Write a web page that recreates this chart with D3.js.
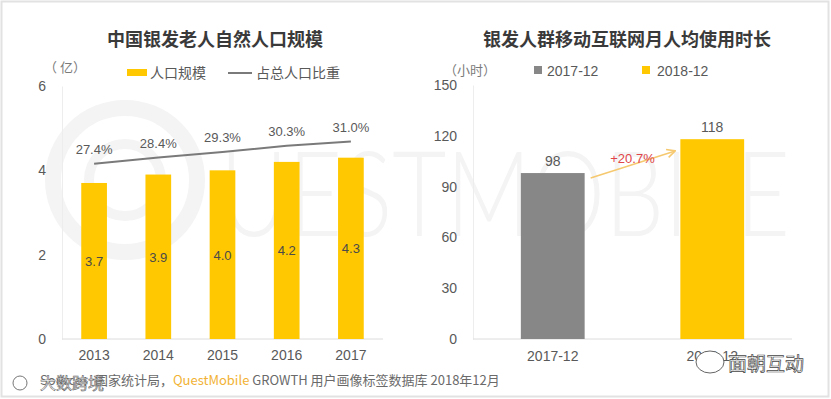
<!DOCTYPE html>
<html>
<head>
<meta charset="utf-8">
<script src="https://cdn.jsdelivr.net/npm/d3@7"></script>
<style>
  body { margin: 0; background: #fff; }
  svg { display: block; font-family: "Noto Sans CJK SC", "Noto Sans", sans-serif; }
  .num { font-family: "Liberation Sans", Arial, sans-serif; }
</style>
</head>
<body>
<svg id="chart" width="831" height="399"></svg>
<script>
// left chart data
const years = ['2013', '2014', '2015', '2016', '2017'];
const population = [3.7, 3.9, 4.0, 4.2, 4.3];      // 亿
const shareOfTotal = [27.4, 28.4, 29.3, 30.3, 31.0]; // %
const popTicks = [0, 2, 4, 6];

// right chart data
const months = ['2017-12', '2018-12'];
const hours = [98, 118];
const hourTicks = [0, 30, 60, 90, 120, 150];
const growthLabel = '+20.7%';

const YELLOW = '#ffc800';
const GREY = '#878787';
const TXT = '#595959';
const NUMFONT = '"Liberation Sans", Arial, sans-serif';

const svg = d3.select('#chart');

// page border
svg.append('rect')
  .attr('x', 1.5).attr('y', 1.5).attr('width', 827).attr('height', 395)
  .attr('fill', '#fff').attr('stroke', '#e2e2e2').attr('stroke-width', 2);

// faint QuestMobile watermark
const wm = svg.append('g').attr('fill', 'none').attr('stroke', '#f4f4f4');
wm.append('circle').attr('cx', 125).attr('cy', 180).attr('r', 72).attr('stroke-width', 16);
wm.append('circle').attr('cx', 125).attr('cy', 180).attr('r', 36).attr('stroke-width', 10);
svg.append('text')
  .attr('x', 220).attr('y', 236)
  .attr('textLength', 570).attr('lengthAdjust', 'spacingAndGlyphs')
  .style('font-family', 'Lato, sans-serif').style('font-weight', 300)
  .style('font-size', '118px').attr('fill', '#f4f4f4')
  .text('UESTMOBILE');

// ---------- left chart ----------
const left = svg.append('g');
const x1 = d3.scaleBand().domain(years).range([62, 383]).paddingInner(0.6).paddingOuter(0.3);
const y1 = d3.scaleLinear().domain([0, 6]).range([339, 86]);
const y1b = d3.scaleLinear().domain([-1, 40]).range([339, 86]);

left.append('text')
  .attr('x', 215).attr('y', 46).attr('text-anchor', 'middle')
  .style('font-size', '18px').style('font-weight', 600).attr('fill', '#3a3a3a')
  .text('中国银发老人自然人口规模');

left.append('text').attr('x', 44).attr('y', 72)
  .style('font-size', '13px').attr('fill', '#7a7a7a').text('（ 亿）');

// legend
left.append('rect').attr('x', 127).attr('y', 69).attr('width', 20).attr('height', 7).attr('fill', YELLOW);
left.append('text').attr('x', 150).attr('y', 78).style('font-size', '14px').attr('fill', TXT).text('人口规模');
left.append('line').attr('x1', 228).attr('x2', 252).attr('y1', 73).attr('y2', 73)
  .attr('stroke', '#7a7a7a').attr('stroke-width', 2);
left.append('text').attr('x', 256).attr('y', 78).style('font-size', '14px').attr('fill', TXT).text('占总人口比重');

const ax1 = left.append('g').attr('transform', 'translate(62,0)')
  .call(d3.axisLeft(y1).tickValues(popTicks).tickFormat(d3.format('d')).tickSize(0).tickPadding(16));
ax1.select('.domain').attr('stroke', '#ededed');
ax1.selectAll('text').style('font-size', '14px').attr('fill', TXT).style('font-family', NUMFONT);

left.append('line').attr('x1', 62).attr('x2', 383).attr('y1', 339).attr('y2', 339).attr('stroke', '#dcdcdc');

left.selectAll('rect.bar').data(population).join('rect')
  .attr('class', 'bar')
  .attr('x', (d, i) => x1(years[i]))
  .attr('width', x1.bandwidth())
  .attr('y', d => y1(d))
  .attr('height', d => y1(0) - y1(d))
  .attr('fill', YELLOW);

left.selectAll('text.val').data(population).join('text')
  .attr('class', 'val')
  .attr('x', (d, i) => x1(years[i]) + x1.bandwidth() / 2)
  .attr('y', d => (y1(d) + y1(0)) / 2 + 5)
  .attr('text-anchor', 'middle').style('font-size', '13px').style('font-family', NUMFONT).attr('fill', '#4a4a4a')
  .text(d => d.toFixed(1));

const lineGen = d3.line()
  .x((d, i) => x1(years[i]) + x1.bandwidth() / 2)
  .y(d => y1b(d));
left.append('path').datum(shareOfTotal)
  .attr('d', lineGen).attr('fill', 'none').attr('stroke', '#7a7a7a').attr('stroke-width', 2);

left.selectAll('text.pct').data(shareOfTotal).join('text')
  .attr('class', 'pct')
  .attr('x', (d, i) => x1(years[i]) + x1.bandwidth() / 2)
  .attr('y', d => y1b(d) - 10)
  .attr('text-anchor', 'middle').style('font-size', '13px').style('font-family', NUMFONT).attr('fill', TXT)
  .text(d => d.toFixed(1) + '%');

const bx1 = left.append('g').attr('transform', 'translate(0,339)')
  .call(d3.axisBottom(x1).tickSize(0).tickPadding(11));
bx1.select('.domain').remove();
bx1.selectAll('text').style('font-size', '14px').attr('fill', TXT).style('font-family', NUMFONT);

// ---------- right chart ----------
const right = svg.append('g');
const x2 = d3.scaleBand().domain(months).range([473, 792]).paddingInner(0.6).paddingOuter(0.3);
const y2 = d3.scaleLinear().domain([0, 150]).range([339, 85]);

right.append('text')
  .attr('x', 627).attr('y', 46).attr('text-anchor', 'middle')
  .style('font-size', '18px').style('font-weight', 600).attr('fill', '#3a3a3a')
  .text('银发人群移动互联网月人均使用时长');

right.append('text').attr('x', 444).attr('y', 75)
  .style('font-size', '13px').attr('fill', '#7a7a7a').text('（小时）');

right.append('rect').attr('x', 534).attr('y', 66).attr('width', 8).attr('height', 8).attr('fill', GREY);
right.append('text').attr('x', 547).attr('y', 76).style('font-size', '14px').style('font-family', NUMFONT).attr('fill', TXT).text(months[0]);
right.append('rect').attr('x', 642).attr('y', 66).attr('width', 8).attr('height', 8).attr('fill', YELLOW);
right.append('text').attr('x', 657).attr('y', 76).style('font-size', '14px').style('font-family', NUMFONT).attr('fill', TXT).text(months[1]);

const ax2 = right.append('g').attr('transform', 'translate(473,0)')
  .call(d3.axisLeft(y2).tickValues(hourTicks).tickFormat(d3.format('d')).tickSize(0).tickPadding(16));
ax2.select('.domain').attr('stroke', '#ededed');
ax2.selectAll('text').style('font-size', '14px').attr('fill', TXT).style('font-family', NUMFONT);

right.append('line').attr('x1', 473).attr('x2', 792).attr('y1', 339).attr('y2', 339).attr('stroke', '#dcdcdc');

right.selectAll('rect.bar').data(hours).join('rect')
  .attr('class', 'bar')
  .attr('x', (d, i) => x2(months[i]))
  .attr('width', x2.bandwidth())
  .attr('y', d => y2(d))
  .attr('height', d => y2(0) - y2(d))
  .attr('fill', (d, i) => i === 0 ? GREY : YELLOW);

right.selectAll('text.val').data(hours).join('text')
  .attr('class', 'val')
  .attr('x', (d, i) => x2(months[i]) + x2.bandwidth() / 2)
  .attr('y', d => y2(d) - 7)
  .attr('text-anchor', 'middle').style('font-size', '14px').style('font-family', NUMFONT).attr('fill', TXT)
  .text(d => d);

// growth arrow
svg.append('defs').append('marker')
  .attr('id', 'arr').attr('viewBox', '0 0 10 10').attr('refX', 8).attr('refY', 5)
  .attr('markerWidth', 7).attr('markerHeight', 7).attr('orient', 'auto')
  .append('path').attr('d', 'M1,1 L9,5 L1,9').attr('fill', 'none').attr('stroke', '#f6c970').attr('stroke-width', 1.5);
const arrStart = x2(months[0]) + x2.bandwidth() + 6, arrEnd = x2(months[1]) - 6;
right.append('line')
  .attr('x1', arrStart).attr('y1', y2(hours[0]) + 5)
  .attr('x2', arrEnd).attr('y2', y2(hours[1]) + 12)
  .attr('stroke', '#f6c970').attr('stroke-width', 1.5).attr('marker-end', 'url(#arr)');
right.append('text')
  .attr('x', (arrStart + arrEnd) / 2).attr('y', y2(hours[0]) - 10)
  .attr('text-anchor', 'middle').style('font-size', '13px').style('font-family', NUMFONT).attr('fill', '#e0454a')
  .text(growthLabel);

const bx2 = right.append('g').attr('transform', 'translate(0,339)')
  .call(d3.axisBottom(x2).tickSize(0).tickPadding(12));
bx2.select('.domain').remove();
bx2.selectAll('text').style('font-size', '14px').attr('fill', TXT).style('font-family', NUMFONT);

// ---------- source + overlay watermarks ----------
const src = svg.append('text').attr('x', 40).attr('y', 385)
  .style('font-size', '13px').attr('fill', '#6a6a6a');
src.append('tspan').text('Source：国家统计局，');
src.append('tspan').attr('fill', '#f2b233').text('QuestMobile');
src.append('tspan').text(' GROWTH 用户画像标签数据库 2018年12月');

svg.append('text').attr('x', 40).attr('y', 389)
  .style('font-size', '16px').attr('fill', '#fff').attr('stroke', '#666').attr('stroke-width', 0.6)
  .text('大数跨境');
svg.append('circle').attr('cx', 20).attr('cy', 383).attr('r', 7)
  .attr('fill', 'none').attr('stroke', '#777').attr('stroke-width', 1);

svg.append('ellipse').attr('cx', 710).attr('cy', 362).attr('rx', 14).attr('ry', 11)
  .attr('fill', '#fff').attr('stroke', '#666').attr('stroke-width', 1);
svg.append('text').attr('x', 728).attr('y', 371)
  .style('font-size', '19px').attr('fill', '#fff').attr('stroke', '#444').attr('stroke-width', 0.7)
  .text('面朝互动');
</script>
</body>
</html>
